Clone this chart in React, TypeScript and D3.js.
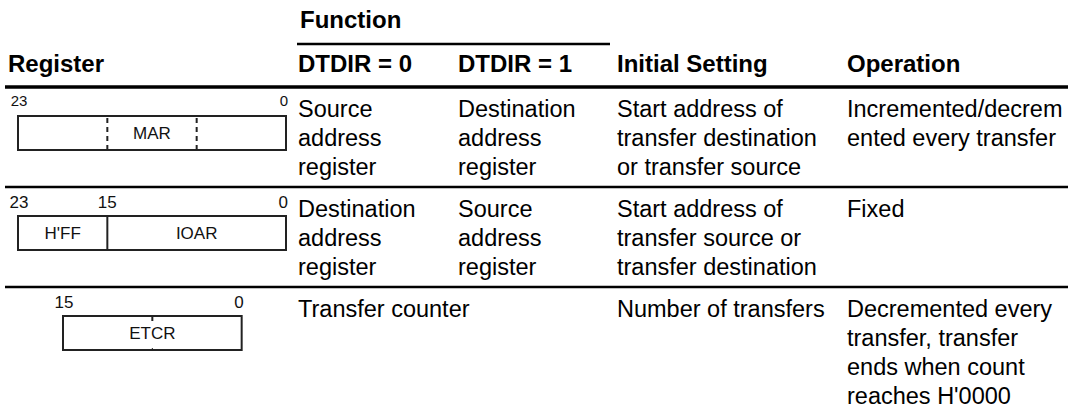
import React from "react";
import * as d3 from "d3";

// ---- data ----
const groupHeader = "Function";
const headers = ["Register", "DTDIR = 0", "DTDIR = 1", "Initial Setting", "Operation"];
const dtdir0 = [["Source", "address", "register"], ["Destination", "address", "register"], ["Transfer counter"]];
const dtdir1 = [["Destination", "address", "register"], ["Source", "address", "register"], []];
const initialSetting = [
  ["Start address of", "transfer destination", "or transfer source"],
  ["Start address of", "transfer source or", "transfer destination"],
  ["Number of transfers"],
];
const operation = [
  ["Incremented/decrem", "ented every transfer"],
  ["Fixed"],
  ["Decremented every", "transfer, transfer", "ends when count", "reaches H'0000"],
];
const regBits = [24, 24, 16];
const regFields = [
  [{ name: "MAR", hi: 23, lo: 0 }],
  [{ name: "H'FF", hi: 23, lo: 16 }, { name: "IOAR", hi: 15, lo: 0 }],
  [{ name: "ETCR", hi: 15, lo: 0 }],
];
const regBitLabels = [[23, 0], [23, 15, 0], [15, 0]];
const regDashed = [[16, 8], [], []];
const regTicks = [[], [], [8]];

const W = 1068;
const H = 415;
const FONT = "'Liberation Sans', Arial, Helvetica, sans-serif";
const colX = d3.scaleOrdinal<string, number>().domain(headers).range([8, 298, 458, 617, 847]);
const rowY = d3.scaleOrdinal<number, number>().domain([0, 1, 2]).range([87, 187, 287]);
const rowEnd = [187, 287];
const LINE = 29;
const FS = 23.5;

function Register({ i, top }: { i: number; top: number }) {
  const bits = regBits[i];
  const x0 = bits === 24 ? 18 : 63;
  const unit = 268 / 24;
  const x = d3.scaleLinear().domain([bits, 0]).range([x0, x0 + unit * bits]);
  const bx = (b: number) => x(b);
  const boxTop = top + 29;
  const boxH = 34;
  const small = i === 0 ? 15 : 17;
  return (
    <g>
      {regBitLabels[i].map((b, k) => {
        const first = k === 0;
        const last = k === regBitLabels[i].length - 1;
        const px = first ? bx(b + 1) + 1 : last ? bx(b) + 2 : bx(b + 1);
        return (
          <text key={k} x={px} y={top + (i === 0 ? 19 : 21)} fontSize={small} textAnchor={last ? "end" : "middle"} fill="#111">
            {b}
          </text>
        );
      })}
      <rect x={bx(bits)} y={boxTop} width={bx(0) - bx(bits)} height={boxH} fill="none" stroke="#222" strokeWidth={2} />
      {regFields[i].slice(1).map((f, k) => (
        <line key={k} x1={bx(f.hi + 1)} x2={bx(f.hi + 1)} y1={boxTop} y2={boxTop + boxH} stroke="#222" strokeWidth={2} />
      ))}
      {regDashed[i].map((b, k) => (
        <line key={k} x1={bx(b)} x2={bx(b)} y1={boxTop} y2={boxTop + boxH} stroke="#222" strokeWidth={2} strokeDasharray="5,4" strokeDashoffset={-2} />
      ))}
      {regTicks[i].map((b, k) => (
        <g key={k}>
          <line x1={bx(b)} x2={bx(b)} y1={boxTop} y2={boxTop + 5} stroke="#222" strokeWidth={2} />
          <line x1={bx(b)} x2={bx(b)} y1={boxTop + boxH - 2} y2={boxTop + boxH} stroke="#222" strokeWidth={1} />
        </g>
      ))}
      {regFields[i].map((f, k) => (
        <text key={k} x={(bx(f.hi + 1) + bx(f.lo)) / 2} y={boxTop + 23} fontSize={17} textAnchor="middle" fill="#111">
          {f.name}
        </text>
      ))}
    </g>
  );
}

function Lines({ x, top, lines }: { x: number; top: number; lines: string[] }) {
  return (
    <text fontSize={FS} fill="#000">
      {lines.map((l, k) => (
        <tspan key={k} x={x} y={top + 30 + k * LINE}>
          {l}
        </tspan>
      ))}
    </text>
  );
}

export default function App() {
  return (
    <svg width={W} height={H} style={{ position: "absolute", left: 0, top: 0, background: "#fff" }} fontFamily={FONT}>
      <text x={300} y={28} fontSize={24} fontWeight="bold" fill="#000">
        {groupHeader}
      </text>
      <line x1={297} x2={610} y1={44} y2={44} stroke="#000" strokeWidth={2.6} />
      {headers.map((h) => (
        <text key={h} x={colX(h)} y={72} fontSize={24} fontWeight="bold" fill="#000">
          {h}
        </text>
      ))}
      <line x1={5} x2={W} y1={87} y2={87} stroke="#000" strokeWidth={3.4} />
      {rowEnd.map((y, k) => (
        <line key={k} x1={5} x2={W} y1={y} y2={y} stroke="#000" strokeWidth={2.4} />
      ))}
      {[0, 1, 2].map((r) => (
        <g key={r}>
          <Register i={r} top={rowY(r)} />
          <Lines x={colX(headers[1])} top={rowY(r)} lines={dtdir0[r]} />
          <Lines x={colX(headers[2])} top={rowY(r)} lines={dtdir1[r]} />
          <Lines x={colX(headers[3])} top={rowY(r)} lines={initialSetting[r]} />
          <Lines x={colX(headers[4])} top={rowY(r)} lines={operation[r]} />
        </g>
      ))}
    </svg>
  );
}
